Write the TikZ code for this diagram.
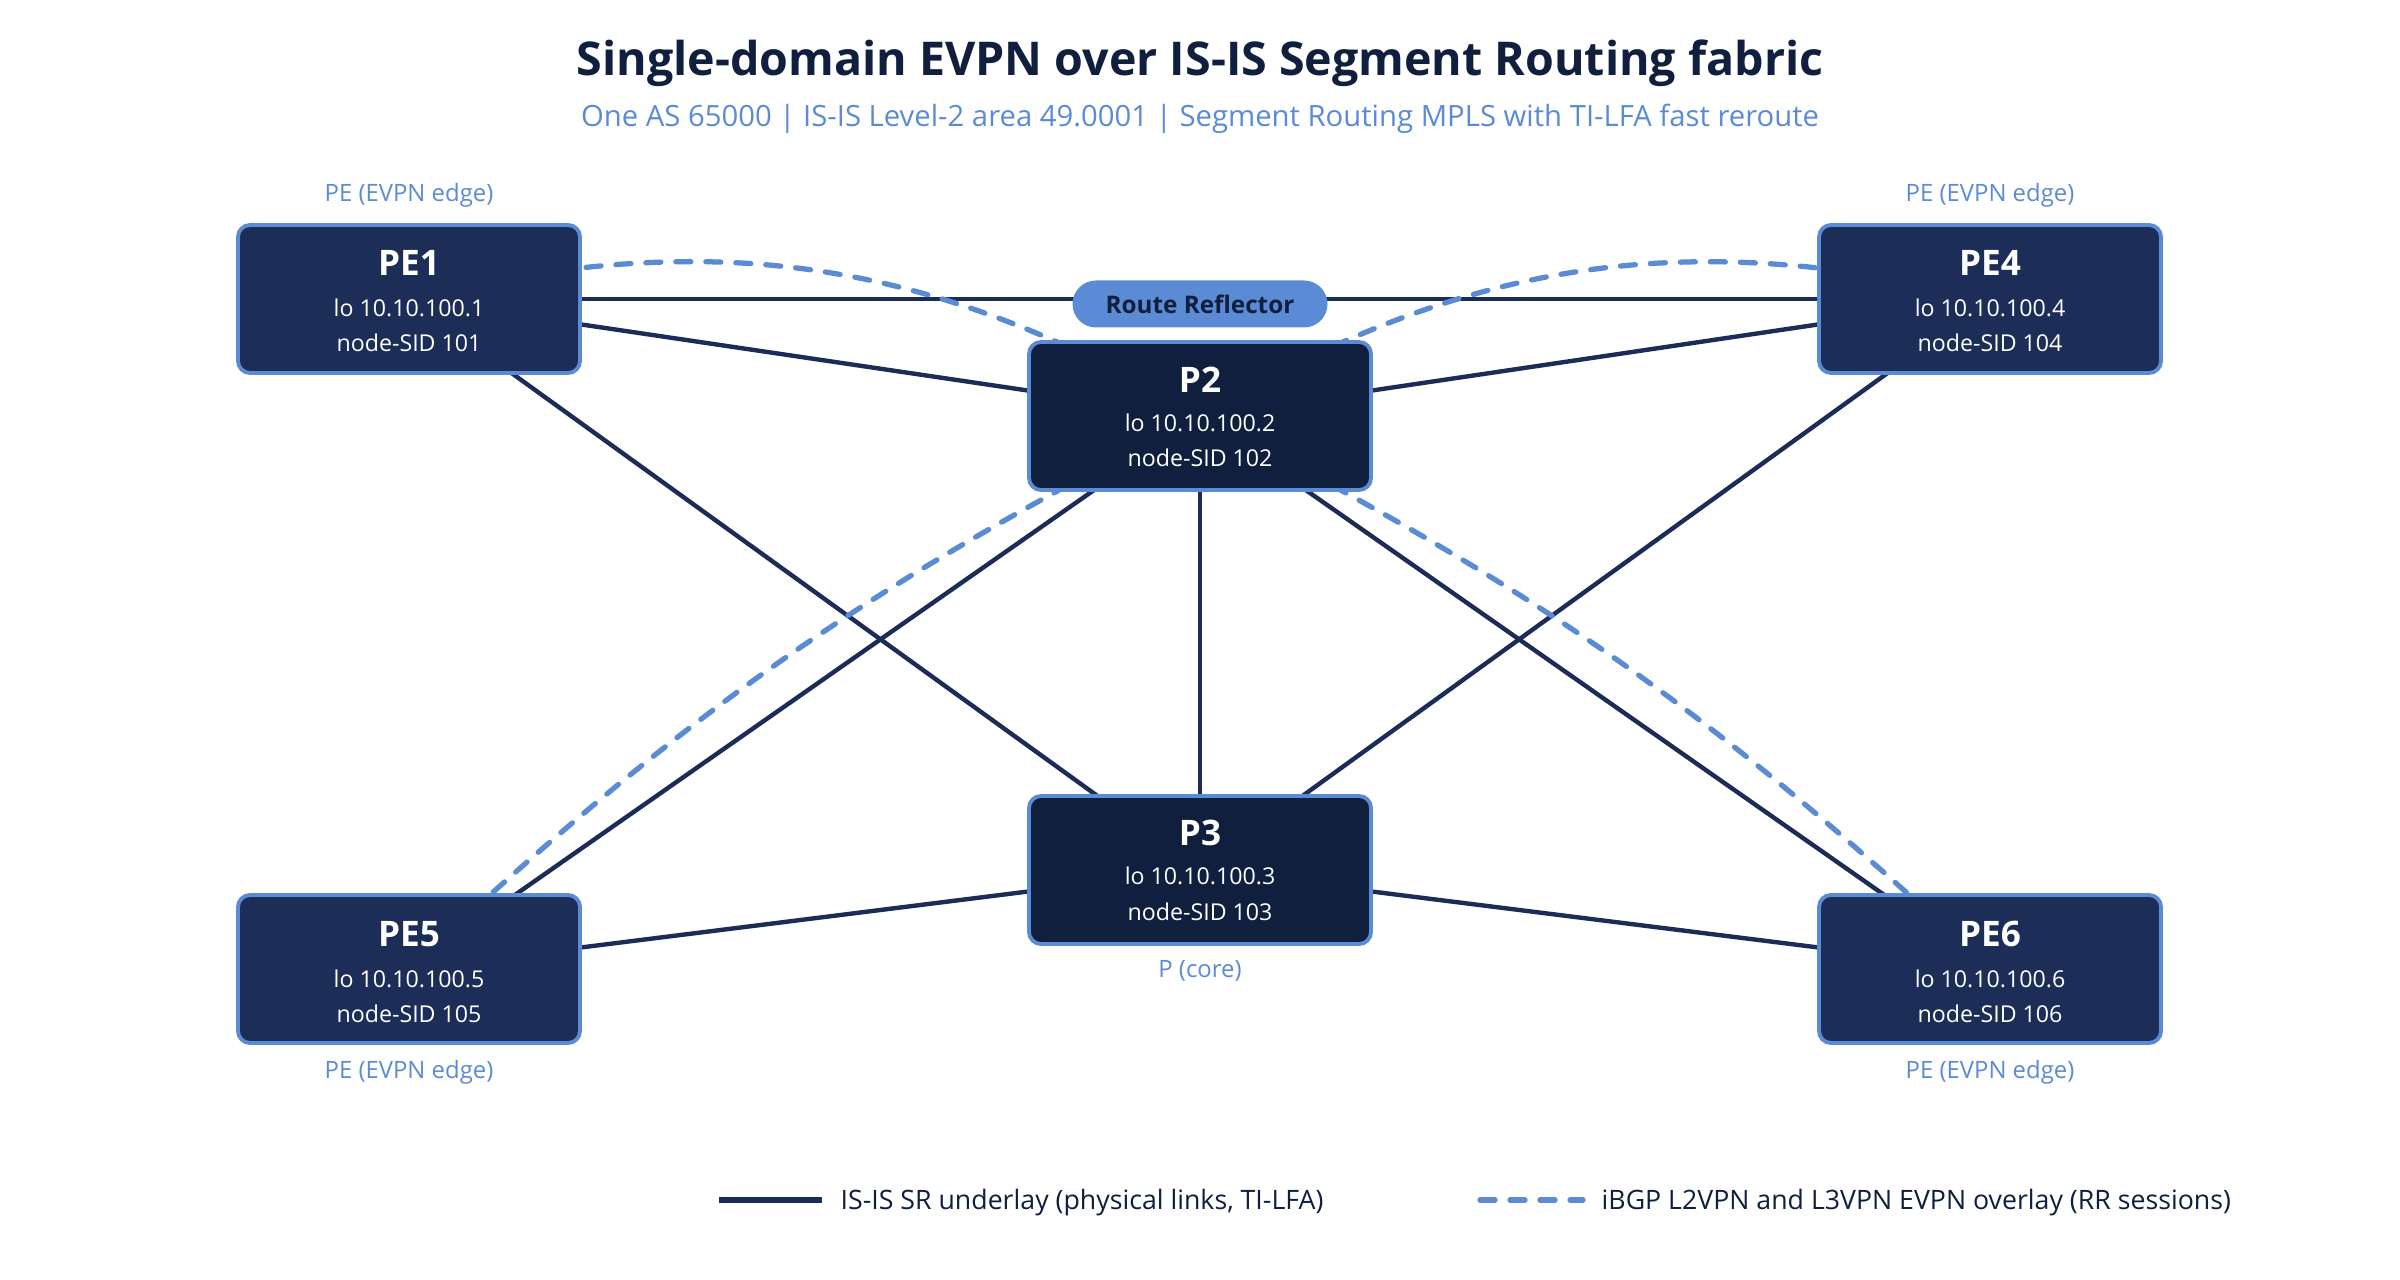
\documentclass[tikz,border=0pt]{standalone}
\usepackage{fontspec}
\setmainfont{Open Sans}
\usetikzlibrary{calc}
\definecolor{navy}{HTML}{1C2D58}
\definecolor{deepnavy}{HTML}{0F1F3D}
\definecolor{accent}{HTML}{5B8BD5}
\definecolor{linknavy}{HTML}{1B2C56}
\pgfdeclarelayer{bg}
\pgfsetlayers{bg,main}
\begin{document}
\begin{tikzpicture}[x=1cm,y=1cm,
  pebox/.style={rectangle, rounded corners=0.12cm, draw=accent, line width=1.1pt, fill=navy, minimum width=3.42cm, minimum height=1.48cm, inner sep=0pt},
  pbox/.style={pebox, fill=deepnavy},
  rname/.style={anchor=base, text=white, font=\bfseries\fontsize{10}{12}\selectfont, inner sep=0pt},
  rinfo/.style={anchor=base, text=white, font=\fontsize{6.6}{8}\selectfont, inner sep=0pt},
  role/.style={anchor=base, text=accent, font=\fontsize{6.8}{8}\selectfont, inner sep=0pt},
  uline/.style={draw=linknavy, line width=1.25pt},
  rrsession/.style={draw=accent, line width=1.5pt, dash pattern=on 0.15cm off 0.15cm, line cap=round},
  rrpill/.style={rectangle, rounded corners=0.235cm, fill=accent, minimum width=2.55cm, minimum height=0.47cm, inner sep=0pt, text=deepnavy, font=\bfseries\fontsize{6.9}{8}\selectfont},
  legtext/.style={anchor=base west, text=deepnavy, font=\fontsize{7.6}{9}\selectfont, inner sep=0pt}
]
\useasboundingbox (0,0) rectangle (24,-12.8);

% title
\node[anchor=base, text=deepnavy, font=\bfseries\fontsize{13.25}{15}\selectfont, inner sep=0pt] (title) at (12,-0.76) {Single-domain EVPN over IS-IS Segment Routing fabric};
\node[anchor=base, text=accent, font=\fontsize{8.33}{10}\selectfont, inner sep=0pt] (subtitle) at (12,-1.27) {One AS 65000 | IS-IS Level-2 area 49.0001 | Segment Routing MPLS with TI-LFA fast reroute};

% routers
\node[pebox] (PE1) at (4.09,-2.99) {};
\node[rname] (PE1n) at ($(PE1)+(0,0.23)$) {PE1};
\node[rinfo] (PE1a) at ($(PE1)+(0,-0.18)$) {lo 10.10.100.1};
\node[rinfo] (PE1b) at ($(PE1)+(0,-0.53)$) {node-SID 101};
\node[role] (PE1r) at ($(PE1.north)+(0,0.22)$) {PE (EVPN edge)};

\node[pebox] (PE4) at (19.90,-2.99) {};
\node[rname] (PE4n) at ($(PE4)+(0,0.23)$) {PE4};
\node[rinfo] (PE4a) at ($(PE4)+(0,-0.18)$) {lo 10.10.100.4};
\node[rinfo] (PE4b) at ($(PE4)+(0,-0.53)$) {node-SID 104};
\node[role] (PE4r) at ($(PE4.north)+(0,0.22)$) {PE (EVPN edge)};

\node[pbox] (P2) at (12,-4.16) {};
\node[rname] (P2n) at ($(P2)+(0,0.23)$) {P2};
\node[rinfo] (P2a) at ($(P2)+(0,-0.16)$) {lo 10.10.100.2};
\node[rinfo] (P2b) at ($(P2)+(0,-0.51)$) {node-SID 102};

\node[pbox] (P3) at (12,-8.70) {};
\node[rname] (P3n) at ($(P3)+(0,0.24)$) {P3};
\node[rinfo] (P3a) at ($(P3)+(0,-0.15)$) {lo 10.10.100.3};
\node[rinfo] (P3b) at ($(P3)+(0,-0.50)$) {node-SID 103};
\node[role] (P3r) at ($(P3.south)+(0,-0.32)$) {P (core)};

\node[pebox] (PE5) at (4.09,-9.69) {};
\node[rname] (PE5n) at ($(PE5)+(0,0.23)$) {PE5};
\node[rinfo] (PE5a) at ($(PE5)+(0,-0.18)$) {lo 10.10.100.5};
\node[rinfo] (PE5b) at ($(PE5)+(0,-0.53)$) {node-SID 105};
\node[role] (PE5r) at ($(PE5.south)+(0,-0.34)$) {PE (EVPN edge)};

\node[pebox] (PE6) at (19.90,-9.69) {};
\node[rname] (PE6n) at ($(PE6)+(0,0.23)$) {PE6};
\node[rinfo] (PE6a) at ($(PE6)+(0,-0.18)$) {lo 10.10.100.6};
\node[rinfo] (PE6b) at ($(PE6)+(0,-0.53)$) {node-SID 106};
\node[role] (PE6r) at ($(PE6.south)+(0,-0.34)$) {PE (EVPN edge)};

\node[rrpill] (RR) at (12,-3.04) {Route Reflector};

% links
\begin{pgfonlayer}{bg}
\fill[white] (0,0) rectangle (24,-12.8);
\draw[uline] (PE1.center) -- (PE4.center);
\draw[uline] (PE1.center) -- (P2.center);
\draw[uline] (PE1.center) -- (P3.center);
\draw[uline] (PE4.center) -- (P2.center);
\draw[uline] (PE4.center) -- (P3.center);
\draw[uline] (P2.center) -- (P3.center);
\draw[uline] (P2.center) -- (PE5.center);
\draw[uline] (P2.center) -- (PE6.center);
\draw[uline] (P3.center) -- (PE5.center);
\draw[uline] (P3.center) -- (PE6.center);
\draw[rrsession] (PE1.center) to[bend left=22] (P2.center);
\draw[rrsession] (P2.center) to[bend left=22] (PE4.center);
\draw[rrsession] (P2.center) to[bend right=8] (PE5.center);
\draw[rrsession] (P2.center) to[bend left=8] (PE6.center);
\end{pgfonlayer}

% legend
\coordinate (L1a) at (7.19,-12.00);
\coordinate (L1b) at (8.22,-12.00);
\draw[uline, line width=1.5pt] (L1a) -- (L1b);
\node[legtext] (L1t) at (8.40,-12.09) {IS-IS SR underlay (physical links, TI-LFA)};
\coordinate (L2a) at (14.80,-12.00);
\coordinate (L2b) at (15.83,-12.00);
\draw[rrsession] (L2a) -- (L2b);
\node[legtext] (L2t) at (16.01,-12.09) {iBGP L2VPN and L3VPN EVPN overlay (RR sessions)};
\end{tikzpicture}
\end{document}
